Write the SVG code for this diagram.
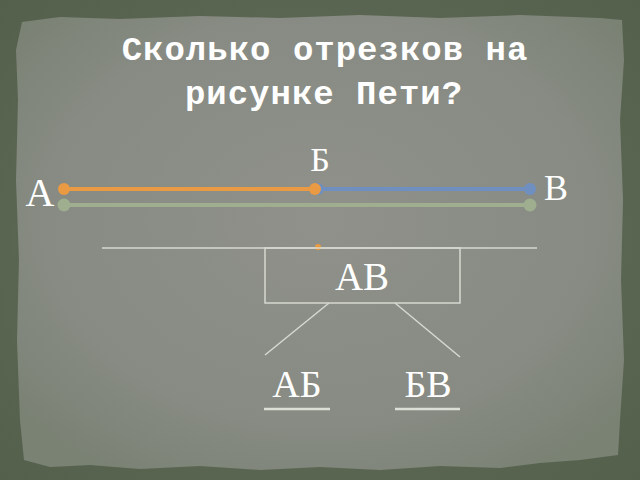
<svg xmlns="http://www.w3.org/2000/svg" width="640" height="480" viewBox="0 0 640 480">
<defs>
<radialGradient id="paper" cx="50%" cy="45%" r="65%">
<stop offset="0" stop-color="#8f918a"/>
<stop offset="0.7" stop-color="#878b83"/>
<stop offset="1" stop-color="#7a8274"/>
</radialGradient>
<radialGradient id="bg" cx="50%" cy="50%" r="70%">
<stop offset="0" stop-color="#66715d"/>
<stop offset="1" stop-color="#55604c"/>
</radialGradient>
<style>
.title{font-family:"Liberation Mono","Courier New",monospace;font-weight:bold;font-size:34px;fill:#ffffff;letter-spacing:1px;text-anchor:middle}
.lbl{font-family:"Liberation Serif","Times New Roman",serif;fill:#ffffff;text-anchor:middle}
.thin{stroke:#d6d9cf;stroke-width:1.5;fill:none}
.ul{stroke:#dcdfd5;stroke-width:2.5;fill:none}
</style>
</defs>
<rect width="640" height="480" fill="url(#bg)"/>
<path d="M22,22 L60,17 L120,19 L200,16 L280,18 L360,15 L440,18 L520,15 L600,18 L622,20 L624,60 L620,120 L623,200 L621,280 L624,360 L620,420 L618,455 L580,460 L540,463 L500,468 L440,466 L380,470 L320,467 L260,470 L200,466 L140,469 L90,465 L50,467 L24,460 L20,420 L17,340 L19,260 L16,180 L18,100 L16,50 Z" fill="url(#paper)"/>
<g id="title">
<text class="title" x="325" y="60">Сколько отрезков на</text>
<text class="title" x="324" y="104">рисунке Пети?</text>
</g>
<g id="segments">
<line x1="64" y1="205" x2="530" y2="205" stroke="#9fae8e" stroke-width="4"/>
<circle cx="64" cy="205" r="6.5" fill="#9fae8e"/>
<circle cx="530" cy="205" r="6.5" fill="#9fae8e"/>
<line x1="316" y1="189" x2="530" y2="189" stroke="#6f8fc0" stroke-width="4"/>
<circle cx="530" cy="189" r="6" fill="#6f8fc0"/>
<circle cx="318" cy="189" r="6" fill="#6f8fc0"/>
<line x1="64" y1="189" x2="316" y2="189" stroke="#e99a42" stroke-width="4"/>
<circle cx="64" cy="189" r="6" fill="#e99a42"/>
<circle cx="315" cy="189" r="6" fill="#e99a42"/>
</g>
<g id="labels">
<text class="lbl" x="40" y="206" font-size="40">А</text>
<text class="lbl" x="320" y="171" font-size="34">Б</text>
<text class="lbl" x="556" y="200" font-size="36">В</text>
</g>
<g id="connectors">
<line class="thin" x1="102" y1="248" x2="537" y2="248"/>
<circle cx="318" cy="247" r="3" fill="#e99a42"/>
<line class="thin" x1="329" y1="303" x2="265" y2="355"/>
<line class="thin" x1="395" y1="303" x2="460" y2="357"/>
</g>
<g id="node-AV">
<rect x="265" y="248" width="195" height="55" class="thin"/>
<text class="lbl" x="362" y="290" font-size="39">АВ</text>
</g>
<g id="node-AB">
<text class="lbl" x="297" y="397" font-size="38">АБ</text>
<line class="ul" x1="264" y1="409" x2="330" y2="409"/>
</g>
<g id="node-BV">
<text class="lbl" x="428" y="397" font-size="38">БВ</text>
<line class="ul" x1="395" y1="409" x2="460" y2="409"/>
</g>
</svg>
